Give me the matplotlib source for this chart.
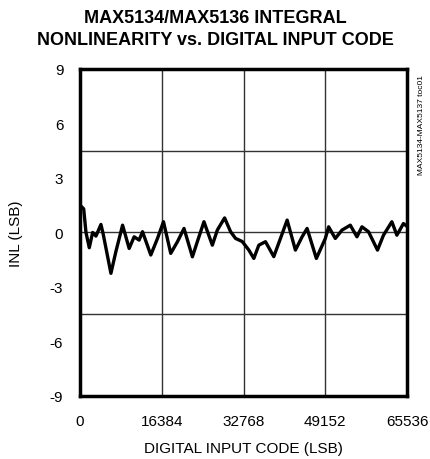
import numpy as np
import matplotlib.pyplot as plt

plt.rcParams['font.family'] = ['Liberation Sans', 'DejaVu Sans']
plt.rcParams['axes.unicode_minus'] = False

# INL trace
code = [0, 739, 1199, 1858, 2537, 3197, 4196, 4655, 6194, 7193, 8532, 9850, 10849,
        11848, 12528, 14186, 15525, 16723, 18182, 19521, 20839, 22518, 23517,
        24835, 26514, 27513, 28971, 30170, 31169, 32508, 33826, 34825, 35824,
        37163, 38821, 40160, 41499, 43157, 44496, 45495, 47353, 49152, 49811,
        51150, 52489, 54148, 55486, 56485, 57804, 59602, 60801, 62479, 63479,
        64798, 65536]
inl = [1.5, 1.3, 0.0, -0.84, 0.0, -0.2, 0.44, -0.1, -2.25, -1.05, 0.4, -0.88,
       -0.24, -0.42, 0.04, -1.24, -0.33, 0.59, -1.15, -0.51, 0.22, -1.34, -0.5,
       0.59, -0.7, 0.13, 0.8, 0.04, -0.33, -0.5, -0.97, -1.43, -0.7, -0.51,
       -1.33, -0.33, 0.68, -0.97, -0.24, 0.22, -1.43, -0.33, 0.31, -0.33, 0.13,
       0.4, -0.24, 0.31, 0.04, -0.97, -0.15, 0.59, -0.15, 0.49, 0.33]

xticks = [0, 16384, 32768, 49152, 65536]
yticks = [-9, -6, -3, 0, 3, 6, 9]

fig = plt.figure(figsize=(4.31, 4.60), dpi=100)
ax = fig.add_axes([0.1856, 0.137, 0.759, 0.711])

ax.plot(code, inl, color='black', lw=2.4, solid_joinstyle='round')

for gx in xticks[1:-1]:
    ax.axvline(gx, color='#333333', lw=1.0, zorder=0)
for gy in [-4.5, 0, 4.5]:
    ax.axhline(gy, color='#333333', lw=1.0, zorder=0)

ax.set_xlim(0, 65536)
ax.set_ylim(-9, 9)
ax.set_xticks(xticks)
ax.set_yticks(yticks)
ax.tick_params(axis='x', length=0, labelsize=11, pad=13)
ax.tick_params(axis='y', length=0, labelsize=11, pad=12)
for s in ax.spines.values():
    s.set_linewidth(2.5)

ax.set_xlabel('DIGITAL INPUT CODE (LSB)', fontsize=11, labelpad=9)
ax.set_ylabel('INL (LSB)', fontsize=11, labelpad=19)
fig.suptitle('MAX5134/MAX5136 INTEGRAL\nNONLINEARITY vs. DIGITAL INPUT CODE',
             fontsize=13, fontweight='bold', y=0.978, linespacing=1.35)
fig.text(0.978, 0.838, 'MAX5134-MAX5137 toc01', rotation=90, fontsize=6,
         ha='center', va='top')

plt.savefig('out.png', dpi=100)
